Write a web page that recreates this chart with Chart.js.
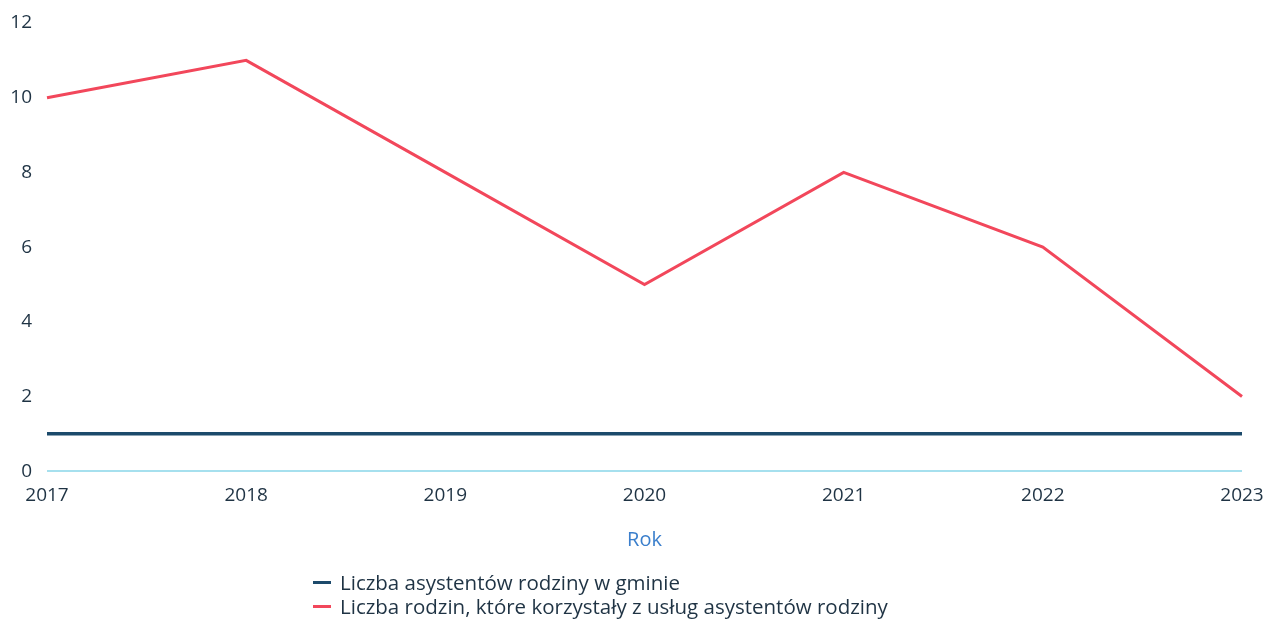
<!DOCTYPE html>
<html>
<head>
<meta charset="utf-8">
<script src="https://cdn.jsdelivr.net/npm/chart.js@4"></script>
<style>
  html, body { margin: 0; padding: 0; background: #fff; }
  #wrap { position: relative; width: 1266px; height: 622px; }
  #legend { position: absolute; left: 313px; top: 570px; font-family: "Open Sans", sans-serif; font-size: 20.5px; color: #1f3344; line-height: 24px; white-space: nowrap; }
  #legend span.box { display: inline-block; width: 18px; height: 3px; margin-right: 9px; vertical-align: middle; position: relative; top: -2px; }
</style>
</head>
<body>
<div id="wrap">
  <canvas id="chart" width="1266" height="622"></canvas>
  <div id="legend"></div>
</div>
<script>
const years = ["2017", "2018", "2019", "2020", "2021", "2022", "2023"];
const assistants = [1, 1, 1, 1, 1, 1, 1];
const families = [10, 11, 8, 5, 8, 6, 2];
const yTicks = [0, 2, 4, 6, 8, 10, 12];

const textColor = "#1f3344";

const chart = new Chart(document.getElementById("chart").getContext("2d"), {
    type: "line",
    data: {
        labels: years,
        datasets: [
            {
                label: "Liczba asystentów rodziny w gminie",
                data: assistants,
                borderColor: "#1c4a6b",
                backgroundColor: "#1c4a6b",
                borderWidth: 3.5,
                pointRadius: 0,
                tension: 0,
            },
            {
                label: "Liczba rodzin, które korzystały z usług asystentów rodziny",
                data: families,
                borderColor: "#f2475b",
                backgroundColor: "#f2475b",
                borderWidth: 3,
                pointRadius: 0,
                tension: 0,
            },
        ],
    },
    options: {
        responsive: false,
        animation: false,
        layout: { padding: { left: 10, right: 0, top: 23, bottom: 70 } },
        plugins: {
            legend: { display: false },
            tooltip: { enabled: false },
        },
        scales: {
            x: {
                offset: false,
                grid: { display: false },
                border: { display: false },
                afterFit: (axis) => {
                    axis.paddingLeft = 0;
                    axis.paddingRight = 24;
                },
                ticks: {
                    color: textColor,
                    font: { family: "Open Sans", size: 19 },
                    padding: 5,
                    maxRotation: 0,
                },
                title: {
                    display: true,
                    text: "Rok",
                    color: "#3b7fcc",
                    font: { family: "Open Sans", size: 20 },
                    padding: { top: 16, bottom: 0 },
                },
            },
            y: {
                min: 0,
                max: 12,
                afterBuildTicks: (axis) => {
                    axis.ticks = yTicks.map((v) => ({ value: v }));
                },
                afterFit: (axis) => {
                    axis.width = 37;
                    axis.paddingTop = 0;
                    axis.paddingBottom = 0;
                },
                grid: {
                    drawTicks: false,
                    color: (ctx) => (ctx.tick && ctx.tick.value === 0 ? "#a6e0ee" : "rgba(0,0,0,0)"),
                    lineWidth: 2,
                },
                border: { display: false },
                ticks: {
                    color: textColor,
                    font: { family: "Open Sans", size: 19 },
                    padding: 15,
                },
            },
        },
    },
});

// legend in two left-aligned rows
const legendEl = document.getElementById("legend");
chart.data.datasets.forEach((ds) => {
    const row = document.createElement("div");
    const box = document.createElement("span");
    box.className = "box";
    box.style.background = ds.borderColor;
    row.appendChild(box);
    row.appendChild(document.createTextNode(ds.label));
    legendEl.appendChild(row);
});
</script>
</body>
</html>
